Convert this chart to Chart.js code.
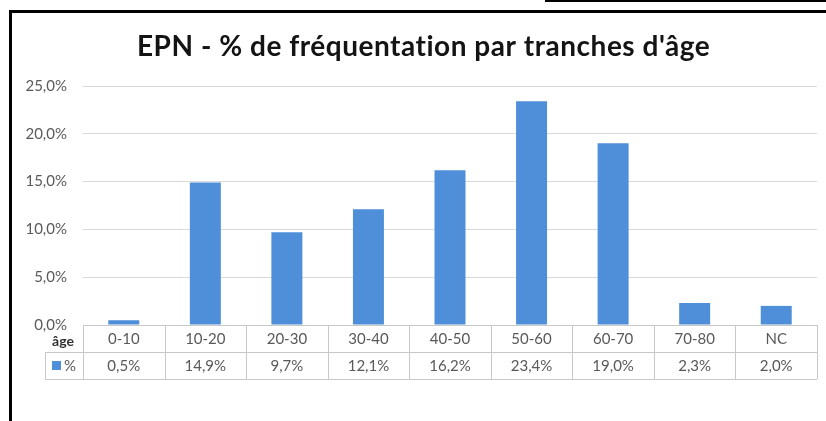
<!DOCTYPE html>
<html>
<head>
<meta charset="utf-8">
<script src="https://cdn.jsdelivr.net/npm/chart.js@4/dist/chart.umd.min.js"></script>
<style>
html,body{margin:0;padding:0;background:#fff;}
#wrap{position:relative;width:826px;height:421px;}
</style>
</head>
<body>
<div id="wrap"><canvas id="c" width="826" height="421"></canvas></div>
<script>
const titleText = "EPN - % de fréquentation par tranches d'âge";
const categories = ["0-10","10-20","20-30","30-40","40-50","50-60","60-70","70-80","NC"];
const values = [0.5, 14.9, 9.7, 12.1, 16.2, 23.4, 19.0, 2.3, 2.0];
const seriesName = "%";
const rowHeader = "âge";
const yTicks = [0, 5, 10, 15, 20, 25];

const BAR = '#4F8FD9';
const GRID = '#d9d9d9';
const TABLE = '#c8c8c8';
const TEXT = '#595959';
const FONT = 'Lato, "Open Sans", sans-serif';

function fmt(v){ return v.toFixed(1).replace('.', ',') + '%'; }

const framePlugin = {
  id: 'frame',
  beforeDraw(chart){
    const ctx = chart.ctx;
    ctx.save();
    ctx.fillStyle = '#fff';
    ctx.fillRect(0,0,chart.width,chart.height);
    ctx.restore();
  },
  afterDraw(chart){
    const ctx = chart.ctx;
    const x = chart.scales.x;
    const area = chart.chartArea;
    const n = categories.length;
    const half = (x.getPixelForValue(1) - x.getPixelForValue(0)) / 2;
    const left = x.getPixelForValue(0) - half;
    const right = x.getPixelForValue(n-1) + half;
    const rowH = 27;
    const top = area.bottom;
    const r1 = top + rowH, r2 = top + 2*rowH;
    const keyLeft = 45;
    ctx.save();
    // title
    ctx.fillStyle = '#141414';
    ctx.font = 'bold 28px ' + FONT;
    ctx.textBaseline = 'middle';
    ctx.textAlign = 'left';
    const targetW = 573;
    let w = ctx.measureText(titleText).width;
    const ls = Math.max(0, (targetW - w) / (titleText.length - 1));
    if ('letterSpacing' in ctx) ctx.letterSpacing = ls.toFixed(2) + 'px';
    ctx.fillText(titleText, 423.5 - targetW / 2, 47);
    if ('letterSpacing' in ctx) ctx.letterSpacing = '0px';

    ctx.strokeStyle = TABLE;
    ctx.lineWidth = 1;
    ctx.beginPath();
    ctx.moveTo(left, top + 0.5); ctx.lineTo(right, top + 0.5);
    ctx.moveTo(keyLeft, r1 + 0.5); ctx.lineTo(right, r1 + 0.5);
    ctx.moveTo(keyLeft, r2 + 0.5); ctx.lineTo(right, r2 + 0.5);
    ctx.moveTo(keyLeft + 0.5, r1); ctx.lineTo(keyLeft + 0.5, r2);
    for (let i = 0; i <= n; i++) {
      const px = Math.round(left + i * 2 * half) + 0.5;
      ctx.moveTo(px, top); ctx.lineTo(px, r2);
    }
    ctx.stroke();
    ctx.fillStyle = TEXT;
    ctx.font = '15px ' + FONT;
    ctx.textAlign = 'center';
    ctx.textBaseline = 'middle';
    for (let i = 0; i < n; i++) {
      const cx = x.getPixelForValue(i);
      ctx.fillText(categories[i], cx, top + rowH/2 + 1);
      ctx.fillText(fmt(values[i]), cx, r1 + rowH/2 + 1);
    }
    ctx.fillStyle = '#333';
    ctx.font = 'bold 14px ' + FONT;
    ctx.fillText(rowHeader, 63, top + 16);
    ctx.fillStyle = BAR;
    ctx.fillRect(52, r1 + 9, 9, 9);
    ctx.fillStyle = TEXT;
    ctx.font = '15px ' + FONT;
    ctx.textAlign = 'left';
    ctx.fillText(seriesName, 64, r1 + rowH/2 + 1);
    // frame
    ctx.fillStyle = '#000';
    ctx.fillRect(9, 10, 3, chart.height - 10);
    ctx.fillRect(9, 10, chart.width - 9, 3);
    ctx.fillRect(545, 0, chart.width - 545, 2);
    ctx.restore();
  }
};

new Chart(document.getElementById('c'), {
  type: 'bar',
  data: {
    labels: categories,
    datasets: [{
      label: seriesName,
      data: values,
      backgroundColor: BAR,
      barPercentage: 0.38,
      categoryPercentage: 1.0
    }]
  },
  options: {
    responsive: false,
    animation: false,
    devicePixelRatio: 1,
    layout: { padding: { left: 0, right: 9, top: 86, bottom: 96 } },
    plugins: {
      legend: { display: false },
      tooltip: { enabled: false },
      title: { display: false }
    },
    scales: {
      x: {
        ticks: { display: false },
        grid: { display: false },
        border: { display: false },
        afterFit(s){ s.height = 0; }
      },
      y: {
        min: 0, max: 25,
        afterBuildTicks(s){ s.ticks = yTicks.map(v => ({ value: v })); },
        ticks: {
          color: TEXT,
          padding: 16,
          font: { family: FONT, size: 15 },
          callback: v => fmt(v)
        },
        grid: { color: GRID, drawTicks: false, lineWidth: 1 },
        border: { display: false },
        afterFit(s){ s.width = 83; }
      }
    }
  },
  plugins: [framePlugin]
});
</script>
</body>
</html>
